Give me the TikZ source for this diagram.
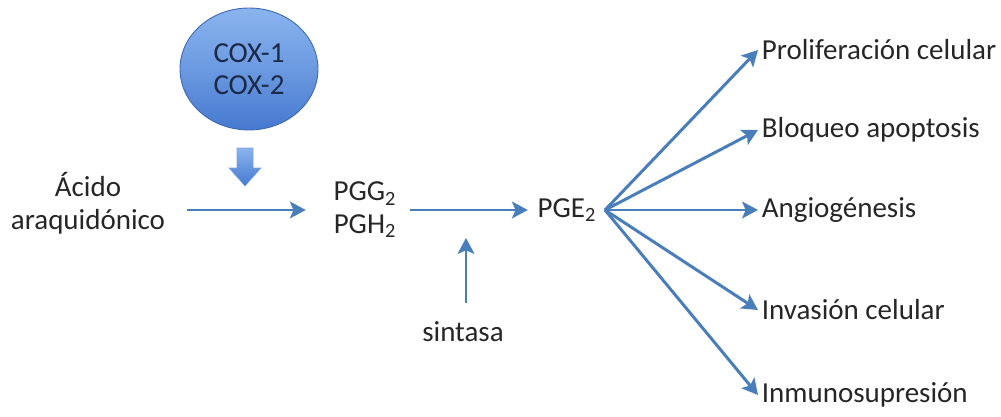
\documentclass[tikz,border=0pt]{standalone}
\usepackage{fontspec}
\setmainfont{Carlito}
\usetikzlibrary{arrows.meta,shapes.geometric}
\definecolor{flujoazul}{HTML}{4A7EBB}
\definecolor{coxclaro}{HTML}{8AB4EE}
\definecolor{coxoscuro}{HTML}{4679D0}
\definecolor{coxtexto}{HTML}{1B2A48}
\begin{document}
\begin{tikzpicture}[x=0.02cm, y=-0.02cm,
    font=\fontsize{16.5}{18.5}\selectfont,
    texto/.style={inner sep=2pt, align=center, text=black!85},
    salida/.style={texto, anchor=west},
    flujo/.style={draw=flujoazul, line width=1.7pt, -{Stealth[length=9pt,width=9.5pt,inset=2pt]}},
    coxbola/.style={ellipse, draw=coxoscuro!85!black, line width=0.5pt,
        top color=coxclaro, bottom color=coxoscuro, middle color=coxclaro!55!coxoscuro,
        minimum width=2.76cm, minimum height=2.44cm, align=center, text=coxtexto}]
\useasboundingbox (0,0) rectangle (1001,416);
% enzimas
\node[coxbola] (cox) at (249,69) {COX-1\\COX-2};
\shade[top color=coxclaro, bottom color=coxoscuro, draw=coxoscuro!70, line width=0.3pt]
  (237,148) -- (253,148) -- (253,168) -- (261,168) -- (245,186) -- (229,168) -- (237,168) -- cycle;
% ruta principal
\node[texto] (acido) at (88,203) {Ácido\\araquidónico};
\node[texto] (pgg) at (365,210) {PGG\textsubscript{2}\\PGH\textsubscript{2}};
\node[texto] (pge) at (567,210) {PGE\textsubscript{2}};
\node[texto, anchor=north] (sintasa) at (463,318) {sintasa};
\coordinate (sinttip) at (466,238);
\coordinate (fan) at (605,210);
% efectos
\node[salida] (prolif) at (758,50) {Proliferación celular};
\node[salida] (bloqueo) at (758,130) {Bloqueo apoptosis};
\node[salida] (angio) at (758,210) {Angiogénesis};
\node[salida] (invasion) at (758,310) {Invasión celular};
\node[salida] (inmuno) at (758,395) {Inmunosupresión};

\draw[flujo, shorten <=0.36cm, shorten >=0.48cm] (acido.east |- pgg.west) -- (pgg.west);
\draw[flujo, shorten <=0.2cm, shorten >=0.12cm] (pgg.east) -- (pgg.east -| pge.west);
\draw[flujo, shorten <=0.3cm] (sintasa.north -| sinttip) -- (sinttip);
\foreach \dest in {prolif,bloqueo,angio,invasion,inmuno}
  \draw[flujo] (fan) -- (\dest.west);
\end{tikzpicture}
\end{document}
